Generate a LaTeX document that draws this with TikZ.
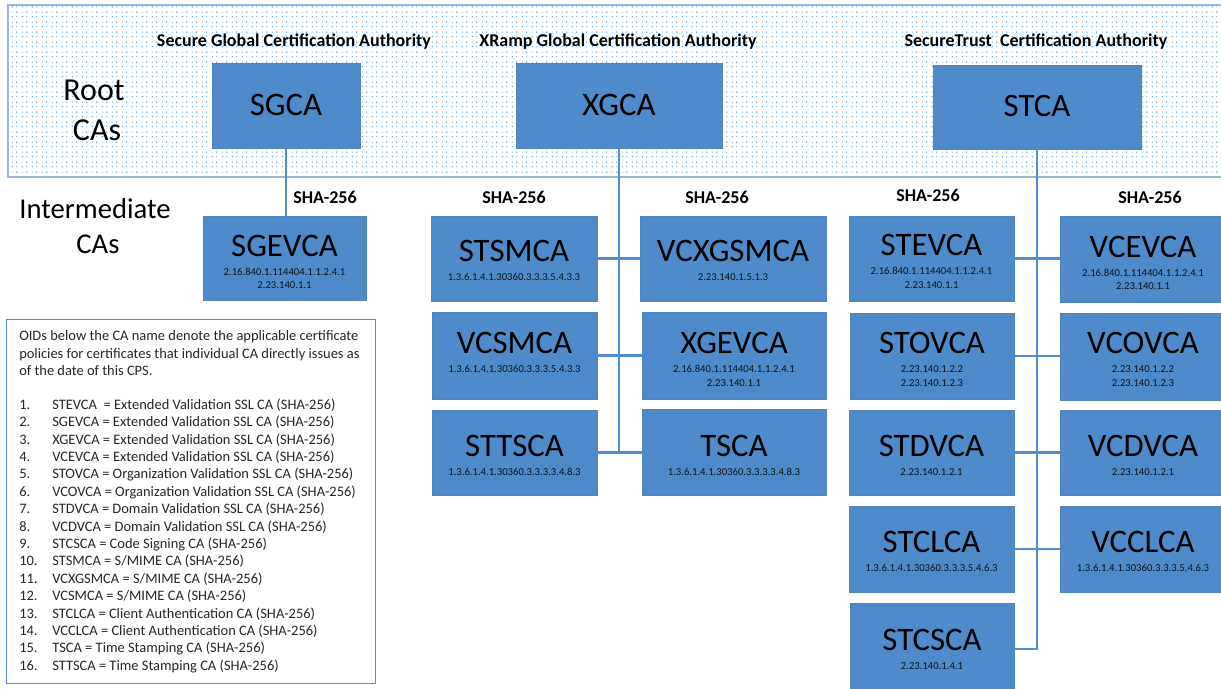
\documentclass[tikz,border=0pt]{standalone}
\usepackage{fontspec}
\setmainfont{Carlito}
\usetikzlibrary{patterns}
\pgfdeclarepatternformonly{banddots}{\pgfqpoint{0pt}{0pt}}{\pgfqpoint{7.5pt}{7.5pt}}{\pgfqpoint{7.5pt}{7.5pt}}{%
  \pgfpathcircle{\pgfqpoint{1.875pt}{1.875pt}}{0.6pt}
  \pgfpathcircle{\pgfqpoint{5.625pt}{5.625pt}}{0.6pt}
  \pgfpathcircle{\pgfqpoint{5.625pt}{1.875pt}}{0.45pt}
  \pgfpathcircle{\pgfqpoint{1.875pt}{5.625pt}}{0.45pt}
  \pgfusepath{fill}
}
\definecolor{boxfill}{HTML}{4F8BCA}
\definecolor{boxedge}{HTML}{4F84B8}
\definecolor{wire}{HTML}{4E8FD0}
\definecolor{bandedge}{HTML}{9DB8D6}
\definecolor{dotc}{HTML}{5E9AD6}
\definecolor{legendedge}{HTML}{4E8FD8}
\tikzset{
  x=0.75pt,y=-0.75pt,
  cabox/.style={draw=boxedge,fill=boxfill,line width=0.75pt,inner sep=0pt,outer sep=0pt},
  catitle/.style={font=\fontsize{24.6}{25}\selectfont,inner sep=0pt,text=black},
  oidtext/.style={font=\fontsize{8}{8}\selectfont,inner sep=0pt,text=black!85!boxfill},
  shalabel/.style={font=\fontsize{13.5}{14}\selectfont\bfseries,inner sep=0pt},
  rootlabel/.style={font=\fontsize{24}{24}\selectfont,inner sep=0pt},
  sidelabel/.style={font=\fontsize{21.5}{22}\selectfont,inner sep=0pt},
  legendtext/.style={font=\fontsize{10.85}{11}\selectfont,inner sep=0pt,anchor=base west,text=black!85},
  wireline/.style={draw=wire,line width=1.8pt},
}
% name, x1, y1, x2, y2, title y
\newcommand{\cabx}[6]{%
  \path[cabox] (#2,#3) rectangle (#4,#5);
  \node[minimum width=#4*0.75pt-#2*0.75pt,minimum height=#5*0.75pt-#3*0.75pt,inner sep=0pt,outer sep=0pt] (#1) at ({(#2+#4)/2},{(#3+#5)/2}) {};
  \node[catitle] (#1-t) at ({(#2+#4)/2},#6) {#1};
}
\newcommand{\oid}[4]{\node[oidtext] (#1-o#2) at (#1-t |- 0,#3) {#4};}
\newcommand{\legrow}[3]{%
  \node[legendtext] (n#1) at (19,#2) {#1.};
  \node[legendtext] (l#1) at (52,#2) {#3};
}
\begin{document}
\begin{tikzpicture}
\useasboundingbox (0,0) rectangle (1221,689);
\clip (0,0) rectangle (1221,689);
% root band
\path[pattern=banddots,pattern color=dotc] (8,5) rectangle (1230,177);
\draw[draw=bandedge,line width=1pt] (8,5) rectangle (1230,177);
\node[rootlabel] (rootA) at (94,90) {Root};
\node[rootlabel] (rootB) at (97,130) {CAs};
\node[sidelabel] (intA) at (95,209) {Intermediate};
\node[sidelabel] (intB) at (98,244) {CAs};
\node[shalabel] (tsg) at (294,42) {Secure Global Certification Authority};
\node[shalabel] (txg) at (618,42) {XRamp Global Certification Authority};
\node[shalabel] (tst) at (1036,42) {SecureTrust\ \ Certification Authority};
\node[shalabel] (s1) at (325,197) {SHA-256};
\node[shalabel] (s2) at (514,197) {SHA-256};
\node[shalabel] (s3) at (717,197) {SHA-256};
\node[shalabel] (s4) at (928,195) {SHA-256};
\node[shalabel] (s5) at (1150,197) {SHA-256};
% boxes
\cabx{SGCA}{212}{63}{360}{148}{105}
\cabx{XGCA}{516}{63}{722}{148}{105}
\cabx{STCA}{933}{65}{1141}{149}{106}
\cabx{SGEVCA}{203}{216}{366}{300}{246}
\cabx{STSMCA}{431}{216}{597}{301}{251}
\cabx{VCXGSMCA}{640}{216}{826}{301}{251}
\cabx{VCSMCA}{432}{312}{597}{399}{343}
\cabx{XGEVCA}{642}{312}{826}{399}{343}
\cabx{STTSCA}{432}{410}{597}{495}{446}
\cabx{TSCA}{642}{409}{826}{495}{446}
\cabx{STEVCA}{849}{216}{1014}{301}{245}
\cabx{VCEVCA}{1060}{216}{1226}{302}{247}
\cabx{STOVCA}{850}{313}{1014}{399}{343}
\cabx{VCOVCA}{1060}{313}{1226}{400}{343}
\cabx{STDVCA}{849}{410}{1014}{495}{446}
\cabx{VCDVCA}{1060}{410}{1226}{495}{446}
\cabx{STCLCA}{849}{506}{1014}{592}{542}
\cabx{VCCLCA}{1060}{506}{1226}{592}{542}
\cabx{STCSCA}{850}{603}{1014}{695}{640}
% OIDs
\oid{SGEVCA}{1}{272}{2.16.840.1.114404.1.1.2.4.1}
\oid{SGEVCA}{2}{285}{2.23.140.1.1}
\oid{STSMCA}{1}{277}{1.3.6.1.4.1.30360.3.3.3.5.4.3.3}
\oid{VCXGSMCA}{1}{277}{2.23.140.1.5.1.3}
\oid{VCSMCA}{1}{369}{1.3.6.1.4.1.30360.3.3.3.5.4.3.3}
\oid{XGEVCA}{1}{369}{2.16.840.1.114404.1.1.2.4.1}
\oid{XGEVCA}{2}{383}{2.23.140.1.1}
\oid{STTSCA}{1}{472}{1.3.6.1.4.1.30360.3.3.3.3.4.8.3}
\oid{TSCA}{1}{472}{1.3.6.1.4.1.30360.3.3.3.3.4.8.3}
\oid{STEVCA}{1}{271}{2.16.840.1.114404.1.1.2.4.1}
\oid{STEVCA}{2}{285}{2.23.140.1.1}
\oid{VCEVCA}{1}{273}{2.16.840.1.114404.1.1.2.4.1}
\oid{VCEVCA}{2}{286}{2.23.140.1.1}
\oid{STOVCA}{1}{369}{2.23.140.1.2.2}
\oid{STOVCA}{2}{383}{2.23.140.1.2.3}
\oid{VCOVCA}{1}{369}{2.23.140.1.2.2}
\oid{VCOVCA}{2}{383}{2.23.140.1.2.3}
\oid{STDVCA}{1}{472}{2.23.140.1.2.1}
\oid{VCDVCA}{1}{472}{2.23.140.1.2.1}
\oid{STCLCA}{1}{568}{1.3.6.1.4.1.30360.3.3.3.5.4.6.3}
\oid{VCCLCA}{1}{568}{1.3.6.1.4.1.30360.3.3.3.5.4.6.3}
\oid{STCSCA}{1}{666}{2.23.140.1.4.1}
% connectors
\draw[wireline] (SGCA.south) -- (SGCA.south |- SGEVCA.north);
\draw[wireline] (XGCA.south) -- (XGCA.south |- STTSCA.east);
\draw[wireline] (STSMCA.east) -- (VCXGSMCA.west |- STSMCA.east);
\draw[wireline] (VCSMCA.east) -- (XGEVCA.west |- VCSMCA.east);
\draw[wireline] (STTSCA.east) -- (TSCA.west |- STTSCA.east);
\draw[wireline] (STCA.south) |- (STCSCA.east);
\draw[wireline] (STEVCA.east) -- (VCEVCA.west |- STEVCA.east);
\draw[wireline] (STOVCA.east) -- (VCOVCA.west |- STOVCA.east);
\draw[wireline] (STDVCA.east) -- (VCDVCA.west |- STDVCA.east);
\draw[wireline] (STCLCA.east) -- (VCCLCA.west |- STCLCA.east);
% legend
\draw[draw=legendedge,fill=white,line width=0.75pt] (6,319) rectangle (375,683);
\node[legendtext] (p1) at (19,340) {OIDs below the CA name denote the applicable certificate};
\node[legendtext] (p2) at (19,358) {policies for certificates that individual CA directly issues as};
\node[legendtext] (p3) at (19,375) {of the date of this CPS.};
\legrow{1}{409}{STEVCA\ \ = Extended Validation SSL CA (SHA-256)}
\legrow{2}{426}{SGEVCA = Extended Validation SSL CA (SHA-256)}
\legrow{3}{444}{XGEVCA = Extended Validation SSL CA (SHA-256)}
\legrow{4}{461}{VCEVCA = Extended Validation SSL CA (SHA-256)}
\legrow{5}{478}{STOVCA = Organization Validation SSL CA (SHA-256)}
\legrow{6}{496}{VCOVCA = Organization Validation SSL CA (SHA-256)}
\legrow{7}{513}{STDVCA = Domain Validation SSL CA (SHA-256)}
\legrow{8}{531}{VCDVCA = Domain Validation SSL CA (SHA-256)}
\legrow{9}{548}{STCSCA = Code Signing CA (SHA-256)}
\legrow{10}{565}{STSMCA = S/MIME CA (SHA-256)}
\legrow{11}{583}{VCXGSMCA = S/MIME CA (SHA-256)}
\legrow{12}{600}{VCSMCA = S/MIME CA (SHA-256)}
\legrow{13}{618}{STCLCA = Client Authentication CA (SHA-256)}
\legrow{14}{635}{VCCLCA = Client Authentication CA (SHA-256)}
\legrow{15}{652}{TSCA = Time Stamping CA (SHA-256)}
\legrow{16}{670}{STTSCA = Time Stamping CA (SHA-256)}
\end{tikzpicture}
\end{document}
